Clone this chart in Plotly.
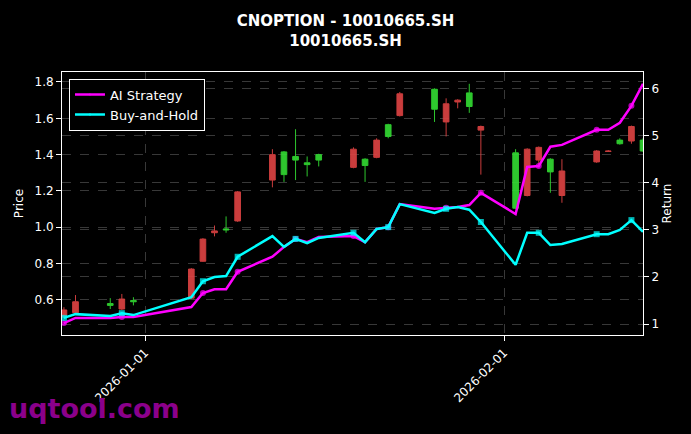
import plotly.graph_objects as go

# trading days
dates = ["2025-12-25", "2025-12-26", "2025-12-29", "2025-12-30", "2025-12-31",
         "2026-01-05", "2026-01-06", "2026-01-07", "2026-01-08", "2026-01-09",
         "2026-01-12", "2026-01-13", "2026-01-14", "2026-01-15", "2026-01-16",
         "2026-01-19", "2026-01-20", "2026-01-21", "2026-01-22", "2026-01-23",
         "2026-01-26", "2026-01-27", "2026-01-28", "2026-01-29", "2026-01-30",
         "2026-02-02", "2026-02-03", "2026-02-04", "2026-02-05", "2026-02-06",
         "2026-02-09", "2026-02-10", "2026-02-11", "2026-02-12", "2026-02-13"]

opens = [0.545, 0.59, 0.57, 0.605, 0.59, 0.77, 0.935, 0.98, 0.985, 1.195,
         1.40, 1.29, 1.37, 1.345, 1.37, 1.43, 1.34, 1.48, 1.50, 1.735,
         1.65, 1.68, 1.70, 1.665, 1.555, 1.105, 1.43, 1.44, 1.305, 1.31,
         1.42, 1.42, 1.46, 1.555, 1.42]
closes = [0.506, 0.53, 0.58, 0.55, 0.596, 0.61, 0.813, 0.97, 0.99, 1.035,
          1.26, 1.415, 1.39, 1.355, 1.40, 1.33, 1.375, 1.385, 1.565, 1.615,
          1.76, 1.58, 1.69, 1.74, 1.535, 1.41, 1.175, 1.37, 1.375, 1.175,
          1.36, 1.418, 1.48, 1.475, 1.48]
highs = [0.56, 0.627, 0.61, 0.633, 0.615, 0.775, 0.94, 1.01, 1.06, 1.20,
         1.43, 1.42, 1.54, 1.39, 1.405, 1.44, 1.38, 1.49, 1.57, 1.745,
         1.765, 1.71, 1.705, 1.79, 1.56, 1.43, 1.435, 1.445, 1.38, 1.375,
         1.425, 1.425, 1.49, 1.56, 1.49]
lows = [0.50, 0.525, 0.55, 0.545, 0.57, 0.605, 0.81, 0.95, 0.97, 1.03,
        1.22, 1.25, 1.26, 1.28, 1.335, 1.325, 1.25, 1.38, 1.49, 1.61,
        1.58, 1.50, 1.655, 1.63, 1.29, 1.10, 1.17, 1.33, 1.19, 1.135,
        1.355, 1.415, 1.455, 1.46, 1.415]

ai_return = [1.02, 1.13, 1.13, 1.15, 1.15, 1.36, 1.66, 1.74, 1.74, 2.11,
             2.43, 2.64, 2.81, 2.74, 2.85, 2.87, 2.74, 3.02, 3.06, 3.55,
             3.45, 3.47, 3.49, 3.53, 3.79, 3.34, 4.34, 4.36, 4.77, 4.81,
             5.13, 5.13, 5.28, 5.64, 6.11]
bh_return = [1.13, 1.21, 1.17, 1.23, 1.19, 1.57, 1.91, 2.00, 2.02, 2.43,
             2.87, 2.64, 2.81, 2.72, 2.83, 2.94, 2.74, 3.02, 3.06, 3.55,
             3.36, 3.45, 3.49, 3.43, 3.17, 2.26, 2.94, 2.94, 2.68, 2.70,
             2.91, 2.91, 3.00, 3.21, 2.96]

# every third point gets a marker
msize = [6 if i % 3 == 0 else 0 for i in range(len(dates))]

fig = go.Figure()
fig.add_trace(go.Candlestick(
    x=dates, open=opens, high=highs, low=lows, close=closes,
    increasing=dict(line=dict(color="#33dd33", width=1), fillcolor="#33dd33"),
    decreasing=dict(line=dict(color="#e04444", width=1), fillcolor="#e04444"),
    whiskerwidth=0, opacity=0.9, showlegend=False,
))
fig.add_trace(go.Scatter(
    x=dates, y=ai_return, name="AI Strategy", yaxis="y2",
    mode="lines+markers", line=dict(color="#ff00ff", width=2.5),
    marker=dict(size=msize, color="#ff00ff", line=dict(width=0)),
))
fig.add_trace(go.Scatter(
    x=dates, y=bh_return, name="Buy-and-Hold", yaxis="y2",
    mode="lines+markers", line=dict(color="#00ffff", width=2.5),
    marker=dict(size=msize, color="#00ffff", symbol="square", line=dict(width=0)),
))

grid = dict(showgrid=True, gridcolor="#383838", griddash="dash", gridwidth=0.6,
            automargin=False)
fig.update_layout(
    width=691, height=434,
    paper_bgcolor="black", plot_bgcolor="black",
    font=dict(family="DejaVu Sans", size=12, color="white"),
    title=dict(text="<b>CNOPTION - 10010665.SH<br>10010665.SH</b>",
               x=0.5, xanchor="center", y=0.94, yanchor="bottom",
               font=dict(size=15, color="white")),
    margin=dict(l=62, r=48, t=72, b=99, autoexpand=False),
    xaxis=dict(type="date", range=["2025-12-24 20:00", "2026-02-13 00:00"],
               tickvals=["2026-01-01", "2026-02-01"], ticktext=["2026-01-01", "2026-02-01"],
               tickangle=-45, ticks="outside", tickcolor="white",
               showline=True, linecolor="white", mirror=True,
               rangeslider=dict(visible=False), **grid),
    yaxis=dict(title=dict(text="Price", standoff=8, font=dict(size=12)),
               range=[0.407, 1.855], dtick=0.2,
               tickformat=".1f", ticks="outside", tickcolor="white",
               showline=True, linecolor="white", zeroline=False, **grid),
    yaxis2=dict(title=dict(text="Return", standoff=4, font=dict(size=12)),
                overlaying="y", side="right",
                range=[0.766, 6.36], dtick=1, ticks="outside", tickcolor="white",
                showline=True, linecolor="white", zeroline=False, **grid),
    legend=dict(x=0.012, y=0.975, xanchor="left", yanchor="top",
                bgcolor="black", bordercolor="white", borderwidth=1,
                font=dict(size=13)),
    annotations=[dict(text="<b>uqtool.com</b>", xref="paper", yref="paper",
                      x=-0.094, y=-0.28, xanchor="left", yanchor="middle",
                      showarrow=False, font=dict(size=27, color="#8b008b"))],
)

fig.write_html("out.html", config={"displayModeBar": False},
               post_script="document.body.style.margin='0';")
